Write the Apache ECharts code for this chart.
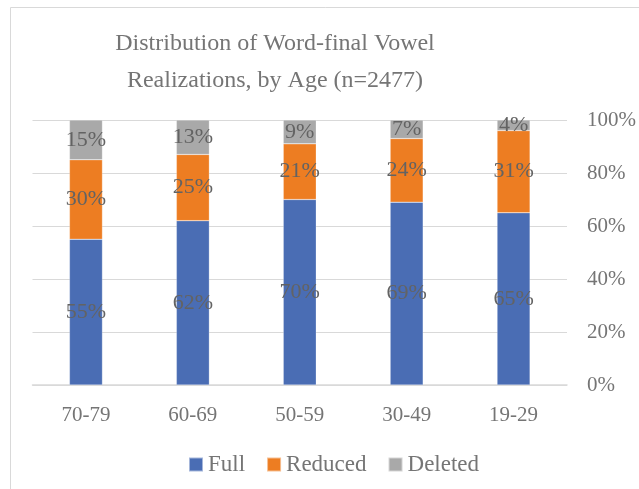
<!DOCTYPE html>
<html>
<head>
<meta charset="utf-8">
<script src="https://cdn.jsdelivr.net/npm/echarts@6/dist/echarts.min.js"></script>
<style>
html,body{margin:0;padding:0;background:#fff;}
#c{width:639px;height:489px;}
</style>
</head>
<body>
<div id="c"></div>
<script>
var categories = ['70-79', '60-69', '50-59', '30-49', '19-29'];
var full = [55, 62, 70, 69, 65];
var reduced = [30, 25, 21, 24, 31];
var deleted = [15, 13, 9, 7, 4];
var yTicks = [0, 20, 40, 60, 80, 100];

var FONT = 'Liberation Serif';
var chart = echarts.init(document.getElementById('c'));
function seg(name, data, color) {
  return {
    name: name, type: 'bar', stack: 'total', data: data, barWidth: 33,
    itemStyle: { color: color, borderColor: 'rgba(255,255,255,0.5)', borderWidth: 0.5 },
    label: { show: true, position: 'inside', formatter: '{c}%', fontFamily: FONT, fontSize: 22, color: '#636363' }
  };
}
chart.setOption({
  animation: false,
  textStyle: { fontFamily: FONT },
  graphic: [
    { type: 'rect', shape: { x: 10.5, y: 7.5, width: 700, height: 600 }, style: { fill: 'none', stroke: '#d9d9d9', lineWidth: 1 }, silent: true }
  ],
  title: {
    text: 'Distribution of Word-final Vowel\nRealizations, by Age (n=2477)',
    left: 270, top: 20, textAlign: 'center',
    textStyle: { fontFamily: FONT, fontSize: 24, fontWeight: 'normal', color: '#757575', lineHeight: 37 }
  },
  legend: {
    data: ['Full', 'Reduced', 'Deleted'], left: 183, top: 448,
    itemWidth: 14, itemHeight: 14, itemGap: 21, icon: 'rect',
    textStyle: { fontFamily: FONT, fontSize: 23, color: '#757575', padding: [0, 0, 0, 0] }
  },
  grid: { left: 32.5, right: 71.5, top: 120, bottom: 104 },
  xAxis: {
    type: 'category', data: categories,
    axisLine: { lineStyle: { color: '#d9d9d9', width: 1.5 } },
    axisTick: { show: false },
    axisLabel: { fontFamily: FONT, fontSize: 21, color: '#757575', margin: 20 }
  },
  yAxis: {
    type: 'value', position: 'right', min: yTicks[0], max: yTicks[yTicks.length - 1], interval: 20,
    axisLine: { show: false }, axisTick: { show: false },
    splitLine: { lineStyle: { color: '#d9d9d9', width: 1 } },
    axisLabel: { formatter: '{value}%', fontFamily: FONT, fontSize: 21, color: '#757575', margin: 20 }
  },
  series: [seg('Full', full, '#4a6db4'), seg('Reduced', reduced, '#ed7d22'), seg('Deleted', deleted, '#a9a9a9')]
});
</script>
</body>
</html>
